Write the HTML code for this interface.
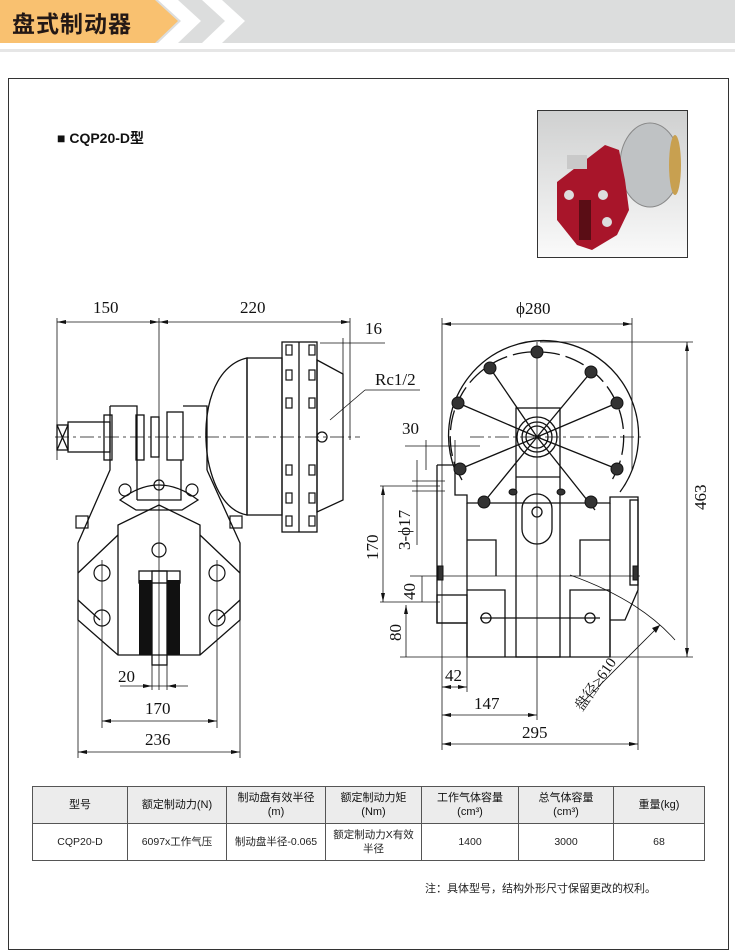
<!DOCTYPE html>
<html><head><meta charset="utf-8"><style>
body{margin:0;width:735px;height:934px;background:#fff;position:relative;overflow:hidden;font-family:"Liberation Sans","Noto Sans CJK SC",sans-serif}
.hd{position:absolute;left:0;top:0;width:735px;height:43px;background:#dcdddd}
.ttl{position:absolute;left:12px;top:5px;font-size:23px;font-weight:bold;color:#231815;letter-spacing:1px}
.frame{position:absolute;left:8px;top:78px;width:719px;height:870px;border:1px solid #333}
table{position:absolute;left:32px;top:786px;width:673px;border-collapse:collapse;font-size:10.5px;color:#222;text-align:center}
td,th{border:1px solid #555;font-weight:normal;line-height:14px;padding:0}
th{background:#ececec;height:36px;font-size:11px;color:#111}
td{height:36px}
.note{position:absolute;left:425px;top:880px;font-size:11px;color:#222}
.sub{position:absolute;left:57px;top:128px;font-size:14px;font-weight:bold;color:#111}
</style></head><body>
<div class="hd"></div>
<svg style="position:absolute;left:0;top:0" width="735" height="60">
<polygon points="0,0 155,0 178,21 155,43 0,43" fill="#f9c170"/>
<polygon points="158,0 178,0 201,21 178,43 158,43 181,21" fill="#fff"/>
<polygon points="202,0 222,0 245,21 222,43 202,43 225,21" fill="#fff"/>
<rect x="0" y="49" width="735" height="3" fill="#e6e6e6"/>
</svg>
<div class="ttl">盘式制动器</div>
<div class="frame"></div>
<div class="sub">■ CQP20-D型</div>
<svg style="position:absolute;left:537px;top:110px" width="151" height="148">
<defs><linearGradient id="g" x1="0" y1="0" x2="0" y2="1"><stop offset="0" stop-color="#cfd0d0"/><stop offset="1" stop-color="#fafafa"/></linearGradient></defs>
<rect x="0.5" y="0.5" width="150" height="147" fill="url(#g)" stroke="#333"/>
<ellipse cx="113" cy="55" rx="30" ry="42" fill="#bfc2c4" stroke="#888"/>
<ellipse cx="138" cy="55" rx="6" ry="30" fill="#c8a050"/>
<polygon points="20,72 55,45 68,35 82,40 88,70 92,100 80,125 55,140 40,135 20,110" fill="#a8152a"/>
<rect x="30" y="45" width="20" height="14" fill="#c9c9c9"/>
<circle cx="32" cy="85" r="5" fill="#ddd"/><circle cx="66" cy="85" r="5" fill="#ddd"/><circle cx="70" cy="112" r="5" fill="#ddd"/>
<rect x="42" y="90" width="12" height="40" fill="#5a0d15"/>
</svg>
<svg style="position:absolute;left:0;top:0" width="735" height="780" font-family="Liberation Serif,serif" font-size="17" fill="none" stroke="#111" stroke-width="1">
<g stroke-width="0.8">
<line x1="57" y1="318" x2="57" y2="460"/><line x1="159" y1="318" x2="159" y2="690"/><line x1="350" y1="318" x2="350" y2="440"/>
<line x1="57" y1="322" x2="350" y2="322"/>
<line x1="320" y1="343" x2="385" y2="343"/><line x1="343" y1="338" x2="343" y2="440"/>
<line x1="330" y1="420" x2="365" y2="390"/><line x1="365" y1="390" x2="420" y2="390"/>
<line x1="102" y1="560" x2="102" y2="728"/><line x1="217" y1="560" x2="217" y2="728"/>
<line x1="78" y1="600" x2="78" y2="758"/><line x1="240" y1="600" x2="240" y2="758"/>
<line x1="120" y1="686" x2="188" y2="686"/><line x1="152" y1="655" x2="152" y2="690"/><line x1="167" y1="655" x2="167" y2="690"/>
<line x1="102" y1="721" x2="217" y2="721"/><line x1="78" y1="752" x2="240" y2="752"/>
<line x1="55" y1="437" x2="360" y2="437" stroke-dasharray="14,4,3,4"/>
</g>
<g fill="#111" stroke="none">
<polygon points="57,322 66,320 66,324"/><polygon points="159,322 150,320 150,324"/><polygon points="159,322 168,320 168,324"/><polygon points="350,322 341,320 341,324"/>
<polygon points="102,721 111,719 111,723"/><polygon points="217,721 208,719 208,723"/><polygon points="78,752 87,750 87,754"/><polygon points="240,752 231,750 231,754"/>
<polygon points="152,686 143,684 143,688"/><polygon points="167,686 176,684 176,688"/>
<text x="93" y="313">150</text><text x="240" y="313">220</text><text x="365" y="334">16</text><text x="375" y="385">Rc1/2</text>
<text x="118" y="682">20</text><text x="145" y="714">170</text><text x="145" y="745">236</text>
</g>
<g stroke-width="1.3">
<path d="M247,358 C215,365 200,410 208,460 C215,495 230,512 247,515 Z"/>
<rect x="247" y="358" width="35" height="157"/>
<rect x="282" y="342" width="35" height="190"/><line x1="299" y1="342" x2="299" y2="532"/>
<polygon points="317,360 343,374 343,500 317,512"/>
<circle cx="322" cy="437" r="5"/>
<rect x="57" y="425" width="11" height="25"/><line x1="57" y1="425" x2="68" y2="450"/><line x1="68" y1="425" x2="57" y2="450"/>
<rect x="68" y="422" width="42" height="30"/>
<rect x="104" y="415" width="8" height="45"/><rect x="136" y="415" width="8" height="45"/><rect x="151" y="417" width="8" height="40"/>
<rect x="167" y="412" width="16" height="48"/>
<path d="M110,406 H137 V500 M183,406 H207 V470"/>
<path d="M110,406 V470 L78,543 V620 L118,655 H200 L240,620 V543 L207,470"/>
<path d="M137,500 L159,500 L181,500 V460"/>
<path d="M120,500 Q159,470 198,500 L182,510 H136 Z"/>
<path d="M118,655 V525 L159,505 L200,525 V655"/>
<path d="M78,573 L118,535 M240,573 L200,535 M78,600 L100,620 M240,600 L218,620"/>
<rect x="139" y="571" width="41" height="12"/>
<rect x="152" y="571" width="15" height="94"/>
</g>
<g fill="#111" stroke="none"><rect x="139" y="580" width="13" height="75"/><rect x="167" y="580" width="13" height="75"/></g>
<g stroke-width="1.2">
<circle cx="102" cy="573" r="8"/><circle cx="217" cy="573" r="8"/><circle cx="102" cy="618" r="8"/><circle cx="217" cy="618" r="8"/>
<circle cx="159" cy="550" r="7"/><circle cx="159" cy="485" r="5"/>
<circle cx="125" cy="490" r="6"/><circle cx="192" cy="490" r="6"/>
<rect x="76" y="516" width="12" height="12"/><rect x="230" y="516" width="12" height="12"/>
<rect x="286" y="345" width="6" height="10"/><rect x="309" y="345" width="6" height="10"/><rect x="286" y="370" width="6" height="10"/><rect x="309" y="370" width="6" height="10"/>
<rect x="286" y="398" width="6" height="10"/><rect x="309" y="398" width="6" height="10"/><rect x="286" y="465" width="6" height="10"/><rect x="309" y="465" width="6" height="10"/>
<rect x="286" y="493" width="6" height="10"/><rect x="309" y="493" width="6" height="10"/><rect x="286" y="516" width="6" height="10"/><rect x="309" y="516" width="6" height="10"/>
</g>
<g stroke-width="0.8">
<line x1="442" y1="318" x2="442" y2="750"/><line x1="632" y1="318" x2="632" y2="470"/>
<line x1="442" y1="324" x2="632" y2="324"/>
<line x1="540" y1="342" x2="693" y2="342"/><line x1="687" y1="342" x2="687" y2="657"/><line x1="400" y1="657" x2="693" y2="657"/>
<line x1="638" y1="590" x2="638" y2="750"/>
<line x1="537" y1="342" x2="537" y2="720"/>
<line x1="470" y1="437" x2="645" y2="437" stroke-dasharray="14,4,3,4"/>
<line x1="405" y1="446" x2="480" y2="446"/><line x1="426" y1="440" x2="426" y2="470"/><line x1="455" y1="440" x2="455" y2="470"/>
<line x1="383" y1="486" x2="383" y2="602"/><line x1="380" y1="486" x2="440" y2="486"/><line x1="380" y1="602" x2="440" y2="602"/>
<line x1="417" y1="460" x2="417" y2="545"/><line x1="412" y1="481" x2="445" y2="481"/><line x1="412" y1="491" x2="445" y2="491"/>
<line x1="410" y1="576" x2="640" y2="576"/><line x1="422" y1="576" x2="422" y2="602"/>
<line x1="406" y1="605" x2="406" y2="657"/>
<line x1="467" y1="657" x2="467" y2="692"/><line x1="442" y1="687" x2="467" y2="687"/>
<line x1="442" y1="715" x2="537" y2="715"/><line x1="442" y1="744" x2="638" y2="744"/>
<line x1="580" y1="705" x2="660" y2="625"/>
<path d="M570,575 Q640,600 675,640"/>
</g>
<g fill="#111" stroke="none">
<polygon points="442,324 451,322 451,326"/><polygon points="632,324 623,322 623,326"/>
<polygon points="687,342 685,351 689,351"/><polygon points="687,657 685,648 689,648"/>
<polygon points="383,486 381,495 385,495"/><polygon points="383,602 381,593 385,593"/>
<polygon points="406,605 404,614 408,614"/><polygon points="442,687 451,685 451,689"/><polygon points="467,687 458,685 458,689"/>
<polygon points="442,715 451,713 451,717"/><polygon points="537,715 528,713 528,717"/><polygon points="442,744 451,742 451,746"/><polygon points="638,744 629,742 629,746"/>
<polygon points="660,625 652,628 656,633"/>
<text x="516" y="314">ϕ280</text><text x="402" y="434">30</text>
<text x="445" y="681">42</text><text x="474" y="709">147</text><text x="522" y="738">295</text>
<text transform="translate(706,510) rotate(-90)">463</text>
<text transform="translate(378,560) rotate(-90)">170</text>
<text transform="translate(410,550) rotate(-90)">3-ϕ17</text>
<text transform="translate(415,600) rotate(-90)">40</text>
<text transform="translate(401,641) rotate(-90)">80</text>
<text transform="translate(582,712) rotate(-55)" font-family="Liberation Serif,Noto Serif CJK SC,serif" font-size="15">盘径≥610</text>
</g>
<g stroke-width="1.3">
<path d="M455,470 A95,95 0 1 1 620,492"/>
<path d="M462,480 A85,85 0 0 1 540,352" stroke-dasharray="20,6"/>
<path d="M540,352 A85,85 0 0 1 612,480" stroke-dasharray="20,6"/>
<rect x="516" y="408" width="44" height="249"/>
<line x1="516" y1="477" x2="560" y2="477"/>
<circle cx="537" cy="437" r="20"/><circle cx="537" cy="437" r="15"/><circle cx="537" cy="437" r="11"/>
<path d="M437,465 H455 V495 H467 V503 H610 V497 H638 V590 L625,620 H610 M437,465 V623 H467 V657 H610 V590"/>
<path d="M467,503 V657 M610,503 V657"/>
<path d="M467,540 H496 V576 M610,540 H580 V576"/>
<path d="M467,590 H505 V657 M610,590 H570 V657"/>
<rect x="522" y="494" width="30" height="50" rx="15"/><circle cx="537" cy="512" r="5"/>
<line x1="480" y1="618" x2="600" y2="618"/>
<circle cx="486" cy="618" r="5"/><circle cx="590" cy="618" r="5"/>
<rect x="630" y="500" width="8" height="85"/>
<rect x="437" y="595" width="30" height="28"/>
<line x1="537" y1="437" x2="458" y2="403"/><line x1="537" y1="437" x2="460" y2="469"/><line x1="537" y1="437" x2="484" y2="502"/>
<line x1="537" y1="437" x2="617" y2="403"/><line x1="537" y1="437" x2="617" y2="469"/><line x1="537" y1="437" x2="595" y2="510"/>
<line x1="537" y1="437" x2="591" y2="372"/><line x1="537" y1="437" x2="490" y2="368"/>
</g>
<g fill="#333" stroke="#111">
<circle cx="537" cy="352" r="6"/><circle cx="490" cy="368" r="6"/><circle cx="591" cy="372" r="6"/>
<circle cx="458" cy="403" r="6"/><circle cx="617" cy="403" r="6"/><circle cx="460" cy="469" r="6"/><circle cx="617" cy="469" r="6"/>
<circle cx="484" cy="502" r="6"/><circle cx="591" cy="502" r="6"/>
<ellipse cx="513" cy="492" rx="4" ry="3"/><ellipse cx="561" cy="492" rx="4" ry="3"/>
<rect x="438" y="566" width="5" height="14"/><rect x="633" y="566" width="5" height="14"/>
</g>
</svg>
<table>
<tr><th style="width:94px">型号</th><th style="width:98px">额定制动力(N)</th><th style="width:98px">制动盘有效半径<br>(m)</th><th style="width:95px">额定制动力矩<br>(Nm)</th><th style="width:96px">工作气体容量<br>(cm³)</th><th style="width:94px">总气体容量<br>(cm³)</th><th>重量(kg)</th></tr>
<tr><td>CQP20-D</td><td>6097x工作气压</td><td>制动盘半径-0.065</td><td>额定制动力X有效<br>半径</td><td>1400</td><td>3000</td><td>68</td></tr>
</table>
<div class="note">注：具体型号，结构外形尺寸保留更改的权利。</div>
</body></html>
